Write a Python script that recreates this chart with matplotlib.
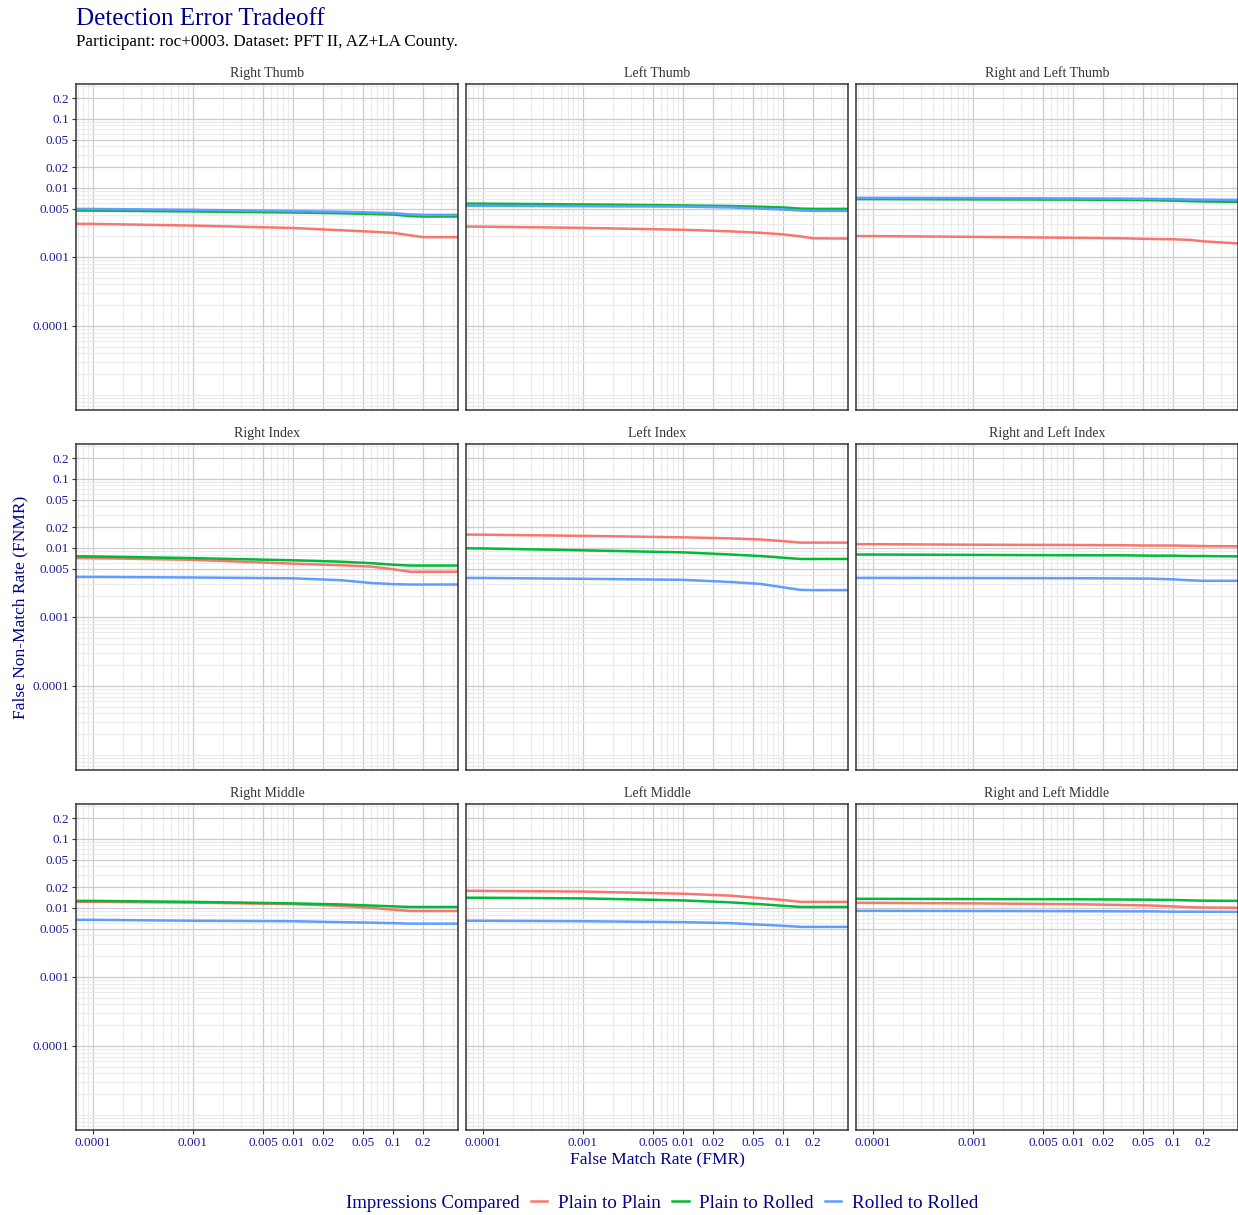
import matplotlib

matplotlib.use("Agg")
import matplotlib.pyplot as plt
from matplotlib.ticker import FixedLocator, LogLocator, NullFormatter

# facet titles, row-major order
PANELS = [
    "Right Thumb", "Left Thumb", "Right and Left Thumb",
    "Right Index", "Left Index", "Right and Left Index",
    "Right Middle", "Left Middle", "Right and Left Middle",
]
SERIES = ["Plain to Plain", "Plain to Rolled", "Rolled to Rolled"]
COLORS = ["#F8766D", "#00BA38", "#619CFF"]

FMR_GRID = [5e-5, 1e-4, 1e-3, 1e-2, 0.03, 0.06, 0.1, 0.15, 0.2, 0.5]

# FNMR per panel (same order as PANELS)
PLAIN_PLAIN = [
    [0.00301, 0.0030, 0.00284, 0.00262, 0.00243, 0.00232, 0.00223, 0.00205, 0.00193, 0.00193],
    [0.00276, 0.00274, 0.00263, 0.00247, 0.00234, 0.00223, 0.00212, 0.00198, 0.00186, 0.00184],
    [0.00200, 0.00200, 0.00195, 0.00189, 0.00186, 0.00182, 0.00180, 0.00176, 0.00168, 0.00155],
    [0.0072, 0.0071, 0.0067, 0.0059, 0.0056, 0.00535, 0.0049, 0.0045, 0.0045, 0.0045],
    [0.0156, 0.0155, 0.0149, 0.0142, 0.0137, 0.0132, 0.0125, 0.0119, 0.0119, 0.0119],
    [0.0113, 0.0113, 0.0111, 0.0110, 0.0109, 0.0108, 0.0108, 0.0107, 0.0106, 0.0105],
    [0.0123, 0.0122, 0.0119, 0.0113, 0.0107, 0.0100, 0.0094, 0.0090, 0.0090, 0.0090],
    [0.0177, 0.0176, 0.0172, 0.0160, 0.0150, 0.0138, 0.0130, 0.0122, 0.0122, 0.0122],
    [0.0118, 0.0118, 0.0116, 0.0113, 0.0110, 0.0108, 0.0105, 0.0102, 0.0101, 0.0100],
]
PLAIN_ROLLED = [
    [0.00469, 0.00468, 0.00455, 0.00439, 0.00428, 0.00418, 0.00410, 0.00390, 0.00384, 0.00384],
    [0.00592, 0.0059, 0.00575, 0.00557, 0.00545, 0.00532, 0.0052, 0.0050, 0.00496, 0.00496],
    [0.00686, 0.00686, 0.00680, 0.00675, 0.00670, 0.00662, 0.00652, 0.00640, 0.00635, 0.00625],
    [0.0076, 0.0075, 0.0071, 0.0066, 0.0063, 0.0060, 0.0057, 0.00554, 0.00554, 0.00554],
    [0.0099, 0.0098, 0.0092, 0.0086, 0.0080, 0.0076, 0.0072, 0.0069, 0.0069, 0.0069],
    [0.0080, 0.0080, 0.0079, 0.0078, 0.0078, 0.0077, 0.0077, 0.0076, 0.0076, 0.0075],
    [0.0126, 0.0126, 0.0122, 0.0116, 0.0112, 0.0108, 0.0105, 0.0103, 0.0103, 0.0103],
    [0.0140, 0.0140, 0.0137, 0.0128, 0.0120, 0.0113, 0.0107, 0.0103, 0.0103, 0.0103],
    [0.0135, 0.0135, 0.0134, 0.0133, 0.0132, 0.0131, 0.0130, 0.0128, 0.0127, 0.0126],
]
ROLLED_ROLLED = [
    [0.00496, 0.00494, 0.00480, 0.00460, 0.00450, 0.00440, 0.00430, 0.00412, 0.00406, 0.00406],
    [0.0055, 0.00548, 0.00542, 0.00535, 0.00520, 0.00500, 0.00485, 0.00470, 0.00464, 0.00464],
    [0.00716, 0.00716, 0.00710, 0.00702, 0.00698, 0.00692, 0.00685, 0.00678, 0.00674, 0.00668],
    [0.0038, 0.00379, 0.00372, 0.00362, 0.0034, 0.0031, 0.00298, 0.00294, 0.00294, 0.00294],
    [0.00367, 0.00366, 0.00356, 0.00344, 0.0032, 0.0030, 0.00268, 0.00246, 0.00244, 0.00244],
    [0.00367, 0.00367, 0.00365, 0.00363, 0.00361, 0.00358, 0.00350, 0.00338, 0.00333, 0.00333],
    [0.0067, 0.0067, 0.0065, 0.0064, 0.0062, 0.0061, 0.0060, 0.0059, 0.0059, 0.0059],
    [0.0065, 0.0065, 0.0064, 0.0062, 0.0060, 0.0057, 0.0055, 0.0053, 0.0053, 0.0053],
    [0.00905, 0.00905, 0.00900, 0.00895, 0.0089, 0.0089, 0.0088, 0.0088, 0.00878, 0.00875],
]

X_BREAKS = [0.0001, 0.001, 0.005, 0.01, 0.02, 0.05, 0.1, 0.2]
X_LABELS = ["0.0001", "0.001", "0.005", "0.01", "0.02", "0.05", "0.1", "0.2"]
Y_BREAKS = [0.0001, 0.001, 0.005, 0.01, 0.02, 0.05, 0.1, 0.2]
Y_LABELS = ["0.0001", "0.001", "0.005", "0.01", "0.02", "0.05", "0.1", "0.2"]

BLUE = "#1a1a9a"
plt.rcParams["font.family"] = ["Liberation Serif", "DejaVu Serif"]

W, H = 1238, 1215
fig = plt.figure(figsize=(W / 100, H / 100), dpi=100)

col_left = [76, 466, 856]
row_top = [84, 444, 804]
pw, ph = 382, 326

for i, name in enumerate(PANELS):
    r, c = divmod(i, 3)
    ax = fig.add_axes([col_left[c] / W, 1 - (row_top[r] + ph) / H, pw / W, ph / H])
    ax.set_xscale("log")
    ax.set_yscale("log")
    ax.set_xlim(6.76e-5, 0.447)
    ax.set_ylim(6.06e-6, 0.319)

    ax.xaxis.set_major_locator(FixedLocator(X_BREAKS))
    ax.yaxis.set_major_locator(FixedLocator(Y_BREAKS))
    ax.xaxis.set_minor_locator(LogLocator(base=10, subs=range(1, 10), numticks=20))
    ax.yaxis.set_minor_locator(LogLocator(base=10, subs=range(1, 10), numticks=20))
    ax.xaxis.set_minor_formatter(NullFormatter())
    ax.yaxis.set_minor_formatter(NullFormatter())
    ax.grid(True, which="minor", color="#ebebeb", lw=0.8)
    ax.grid(True, which="major", color="#cccccc", lw=0.9)
    ax.set_axisbelow(True)
    ax.tick_params(which="minor", length=0)
    ax.tick_params(which="major", length=3, width=0.8, color="#333333",
                   labelsize=9.5, labelcolor=BLUE, pad=2)

    if r == 2:
        ax.set_xticklabels(X_LABELS)
    else:
        ax.tick_params(axis="x", which="major", length=0, labelbottom=False)
    if c == 0:
        ax.set_yticklabels(Y_LABELS)
    else:
        ax.tick_params(axis="y", which="major", length=0, labelleft=False)

    for spine in ax.spines.values():
        spine.set_color("#333333")
        spine.set_linewidth(1.1)

    for vals, color in zip([PLAIN_PLAIN[i], PLAIN_ROLLED[i], ROLLED_ROLLED[i]], COLORS):
        ax.plot(FMR_GRID, vals, color=color, lw=1.8)

    ax.set_title(name, fontsize=10, color="#333333", pad=5)

fig.text(76 / W, 1 - 25 / H, "Detection Error Tradeoff", fontsize=18, color="darkblue",
         ha="left", va="baseline")
fig.text(76 / W, 1 - 46 / H, "Participant: roc+0003. Dataset: PFT II, AZ+LA County.",
         fontsize=12.3, color="black", ha="left", va="baseline")
fig.text(20 / W, 1 - 607 / H, "False Non-Match Rate (FNMR)", rotation=90, fontsize=12.5,
         color="darkblue", ha="center", va="center")
fig.text(657 / W, 1 - 1159 / H, "False Match Rate (FMR)", fontsize=12.5,
         color="darkblue", ha="center", va="center")

handles = [plt.Line2D([], [], color=c, lw=1.8) for c in COLORS]
fig.text(520 / W, 1 - 1203 / H, "Impressions Compared", fontsize=13.5, color="darkblue",
         ha="right", va="center")
leg = fig.legend(handles, SERIES, loc="center left", bbox_to_anchor=(531 / W, 1 - 1203 / H),
                 ncol=3, frameon=False, fontsize=13.8, handlelength=0.85, handletextpad=0.55,
                 columnspacing=0.6, borderaxespad=0, borderpad=0)
for t in leg.get_texts():
    t.set_color("darkblue")

fig.savefig("out.png", dpi=100)
